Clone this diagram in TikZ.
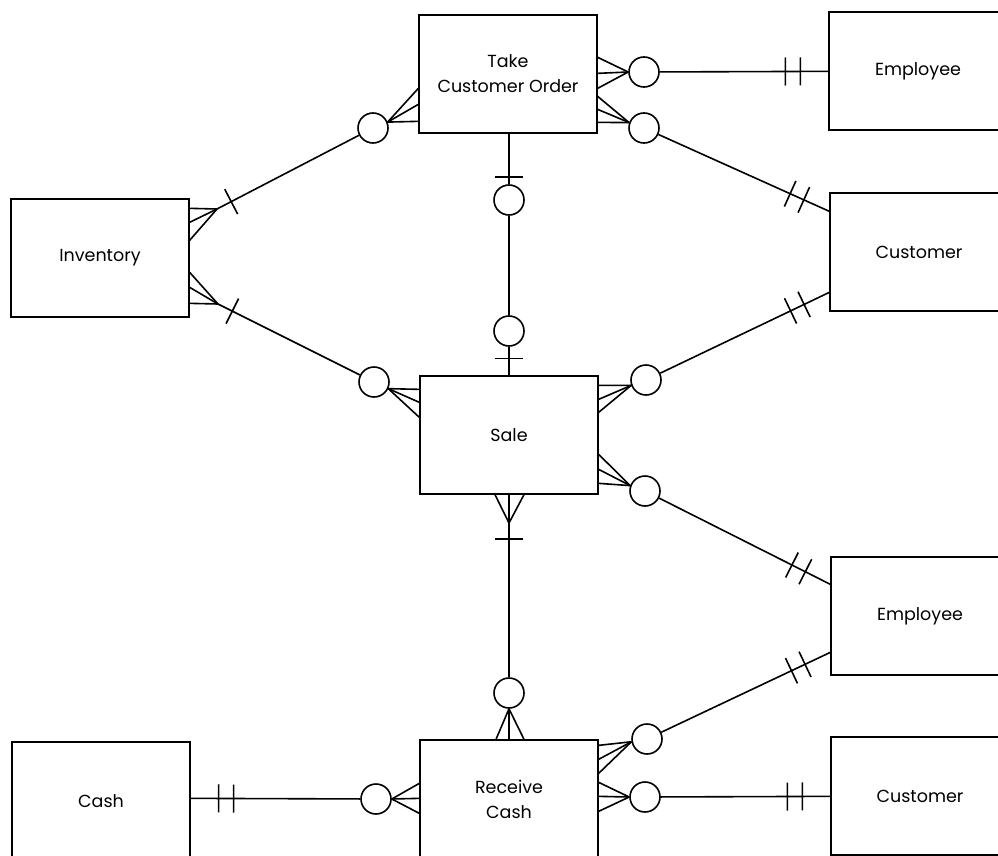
\documentclass[tikz,border=0pt]{standalone}
\usepackage{fontspec}
\setmainfont{Poppins}
\usetikzlibrary{calc,decorations.markings}
\begin{document}
\begin{tikzpicture}[x=1pt,y=-1pt,
  ent/.style={draw, line width=1.3pt, minimum width=178pt, minimum height=118pt, inner sep=0pt, align=center, font=\fontsize{17.5}{25}\selectfont},
  opt/.style={draw, circle, line width=1.6pt, minimum size=30pt, inner sep=0pt},
  ln/.style={line width=1.6pt},
  onebar/.style={postaction={decorate}, decoration={markings, mark=at position #1 with {\draw[line width=1.6pt] (0,-14pt)--(0,14pt);}}},
  twobar/.style={postaction={decorate}, decoration={markings,
     mark=at position 28pt with {\draw[line width=1.6pt] (0,-14pt)--(0,14pt);},
     mark=at position 43pt with {\draw[line width=1.6pt] (0,-14pt)--(0,14pt);}}},
]
\useasboundingbox (0,0) rectangle (998,856);
\clip (0,0) rectangle (998,856);

% entities
\node[ent] (TCO) at (508,74) {Take\\Customer Order};
\node[ent] (Emp1) at (918,71) {Employee};
\node[ent] (Inv) at (100,258) {Inventory};
\node[ent] (Cust1) at (919,252) {Customer};
\node[ent] (Sale) at (509,435) {Sale};
\node[ent] (Emp2) at (920,616) {Employee};
\node[ent] (Cash) at (101,801) {Cash};
\node[ent] (RC) at (509,799) {Receive\\Cash};
\node[ent] (Cust2) at (920,796) {Customer};

% optionality circles
\node[opt] (c1) at (373,128) {};
\node[opt] (c2) at (644,72) {};
\node[opt] (c3) at (644,128) {};
\node[opt] (c4) at (509,200) {};
\node[opt] (c5) at (509,331) {};
\node[opt] (c6) at (374,382) {};
\node[opt] (c7) at (646,380) {};
\node[opt] (c8) at (645,491) {};
\node[opt] (c9) at (509,693) {};
\node[opt] (c10) at (647,739) {};
\node[opt] (c11) at (645,797) {};
\node[opt] (c12) at (376,799) {};

\coordinate (i1) at (217,209);
\coordinate (i2) at (218,304);
\coordinate (s1) at (509,523);

% crow's feet
\foreach \s in {-74,-90,-107} \draw[ln] (c1.22) -- ([yshift=\s pt]TCO.north west);
\foreach \s in {-43,-59,-74} \draw[ln] (c2.west) -- ([yshift=\s pt]TCO.north east);
\foreach \s in {-82,-95,-108} \draw[ln] (c3.160) -- ([yshift=\s pt]TCO.north east);
\foreach \s in {-10,-24,-42} \draw[ln] (i1) -- ([yshift=\s pt]Inv.north east);
\foreach \s in {-74,-89,-105} \draw[ln] (i2) -- ([yshift=\s pt]Inv.north east);
\foreach \s in {-14,-27,-42} \draw[ln] (c6.-25) -- ([yshift=\s pt]Sale.north west);
\foreach \s in {-10,-24,-37} \draw[ln] (c7.200) -- ([yshift=\s pt]Sale.north east);
\foreach \s in {-79,-94,-108} \draw[ln] (c8.160) -- ([yshift=\s pt]Sale.north east);
\foreach \s in {-14,0,15} \draw[ln] (s1) -- ([xshift=\s pt]Sale.south);
\foreach \s in {-13,0,15} \draw[ln] (c9.south) -- ([xshift=\s pt]RC.north);
\foreach \s in {-6,-20,-34} \draw[ln] (c10.190) -- ([yshift=\s pt]RC.north east);
\foreach \s in {-43,-57,-72} \draw[ln] (c11.west) -- ([yshift=\s pt]RC.north east);
\foreach \s in {-44,-59,-74} \draw[ln] (c12.east) -- ([yshift=\s pt]RC.north west);

% relationship lines
\draw[ln,onebar=16pt] (i1) -- (c1);
\draw[ln,onebar=16pt] (i2) -- (c6);
\draw[ln,onebar=7pt] (c4) -- (c4 |- TCO.south);
\draw[ln] (c4) -- (c5);
\draw[ln,onebar=17pt] (c5 |- Sale.north) -- (c5);
\draw[ln,onebar=16pt] (s1) -- (c9);
\draw[ln,twobar] ([yshift=-60pt]Emp1.north west) -- (c2);
\draw[ln,twobar] ([yshift=-19pt]Cust1.north west) -- (c3);
\draw[ln,twobar] ([yshift=-100pt]Cust1.north west) -- (c7);
\draw[ln,twobar] ([yshift=-28pt]Emp2.north west) -- (c8);
\draw[ln,twobar] ([yshift=-96pt]Emp2.north west) -- (c10);
\draw[ln,twobar] ([yshift=-60pt]Cust2.north west) -- (c11);
\draw[ln,twobar] ([yshift=-57pt]Cash.north east) -- (c12);
\end{tikzpicture}
\end{document}
